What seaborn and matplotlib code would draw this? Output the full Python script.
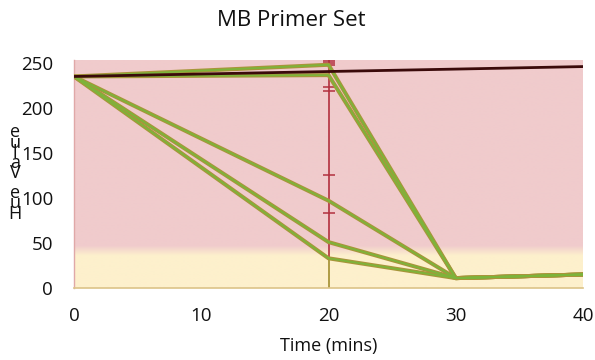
import numpy as np
import pandas as pd
import matplotlib
matplotlib.use("Agg")
import matplotlib.pyplot as plt
import seaborn as sns
from matplotlib.colors import to_rgb

# ---- data ----
time_mins = [0, 20, 30, 40]
series_names = ["S1", "S2", "S3", "S4", "S5"]
s1 = [235, 248, 11, 15]
s2 = [235, 236.5, 11, 15]
s3 = [235, 97, 11, 15]
s4 = [235, 51, 11, 15]
s5 = [235, 33, 11, 15]
control = [235, 240.5, 243.2, 246]
cap_time = 20
cap_values = [252, 250.5, 248, 223.5, 219, 125, 83.5]
vbar_low_olive = 0
vbar_split = 33
vbar_high = 253
x_ticks = [0, 10, 20, 30, 40]
y_ticks = [0, 50, 100, 150, 200, 250]

title = "MB Primer Set"
xlabel = "Time (mins)"
ylabel = "Hue Value"

df = pd.DataFrame({
    "time": time_mins * 5,
    "value": s1 + s2 + s3 + s4 + s5,
    "series": [n for n in series_names for _ in time_mins],
})
df_ctrl = pd.DataFrame({"time": time_mins, "value": control})

sns.set_theme(style="white")
plt.rcParams["font.family"] = ["Open Sans", "DejaVu Sans"]

fig = plt.figure(figsize=(5.95, 3.6), dpi=100)
ax = fig.add_axes([74 / 595, 72 / 360, (583 - 74) / 595, 228 / 360])
ax.set_xlim(0, 40)
ax.set_ylim(0, 253.3)

# background gradient (pink above, pale yellow below)
pink = np.array(to_rgb("#f0cbcc"))
yellow = np.array(to_rgb("#fdf0cc"))
yy = np.linspace(0, 253.3, 400)
t = np.clip((yy - 36) / (47 - 36), 0, 1)[:, None]
grad = yellow * (1 - t) + pink * t
ax.imshow(grad[:, None, :], extent=[0, 40, 0, 253.3], origin="lower",
          aspect="auto", zorder=0, interpolation="bilinear")

# vertical error bar at t=20
ax.vlines(cap_time, vbar_low_olive, vbar_split, color="#a8953a", lw=1.3, zorder=2)
ax.vlines(cap_time, vbar_split, vbar_high, color="#b2303e", lw=1.2, zorder=2)
ax.plot([cap_time] * len(cap_values), cap_values, linestyle="none", marker="_",
        markersize=8, markeredgewidth=1.1, color="#b2303e", zorder=2)

# series lines: olive base + green overlay
sns.lineplot(data=df, x="time", y="value", units="series", estimator=None,
             color="#a8953a", lw=2.9, ax=ax, zorder=3, legend=False)
sns.lineplot(data=df, x="time", y="value", units="series", estimator=None,
             color="#7db43a", lw=1.3, ax=ax, zorder=4, legend=False)
sns.lineplot(data=df_ctrl, x="time", y="value", color="#3a0a0a", lw=2.0,
             ax=ax, zorder=5, legend=False)

ax.set_xticks(x_ticks)
ax.set_yticks(y_ticks)
ax.tick_params(axis="x", length=0, labelsize=13.5, colors="#111111", pad=14)
ax.tick_params(axis="y", length=0, labelsize=13.5, colors="#111111", pad=15)
ax.set_xlabel(xlabel, fontsize=13, color="#111111", labelpad=8)
ax.set_ylabel("")
fig.text(291 / 595, 1 - 20 / 360, title, ha="center", va="center",
         fontsize=16, color="#111111")

for side in ["top", "right"]:
    ax.spines[side].set_visible(False)
ax.spines["left"].set_color("#e0a8a8")
ax.spines["left"].set_linewidth(1.0)
ax.spines["bottom"].set_color("#dcc388")
ax.spines["bottom"].set_linewidth(1.2)

# stacked y-label letters (reversed order as in reference), one text object
stacked = "\n".join(reversed(ylabel))
fig.text(15 / 595, 1 - 173 / 360, stacked, ha="center", va="center",
         fontsize=13, color="#111111", linespacing=0.44, multialignment="center")

fig.savefig("out.png", dpi=100)
